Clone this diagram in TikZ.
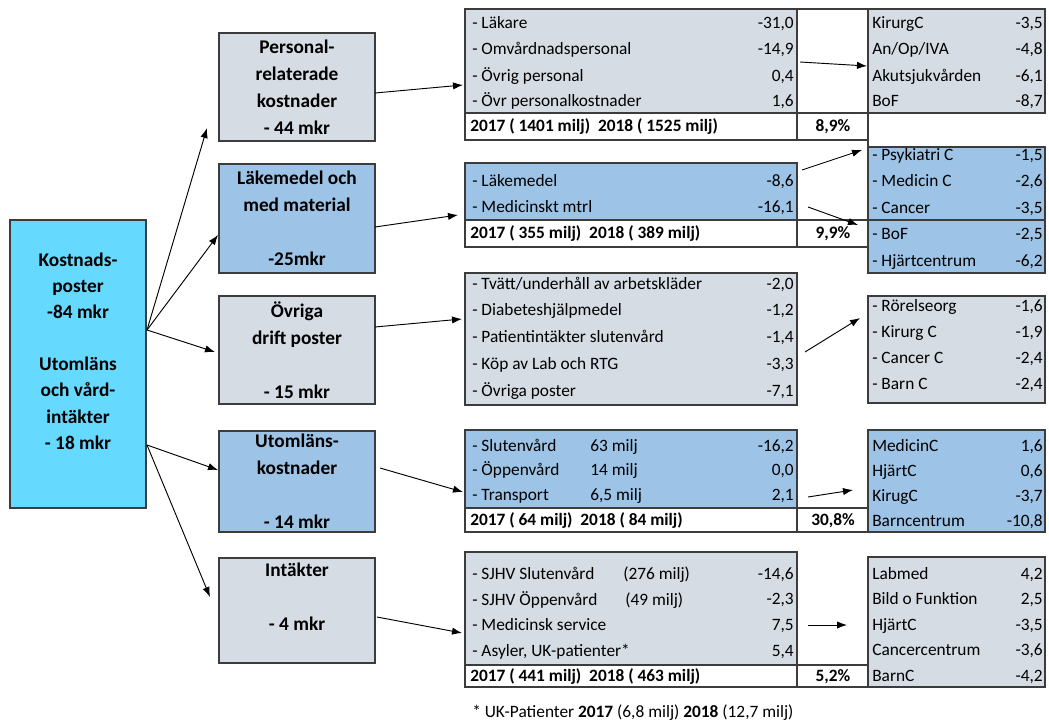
\documentclass[tikz,border=0pt]{standalone}
\usepackage{fontspec}
\setmainfont{Carlito}
\usetikzlibrary{arrows.meta}

\definecolor{kostblue}{RGB}{102,217,255}
\definecolor{graycell}{RGB}{214,220,228}
\definecolor{bluecell}{RGB}{157,195,230}
\definecolor{framegray}{RGB}{60,60,60}

\tikzset{
  box/.style={draw=framegray, line width=1pt, inner sep=0pt, align=center,
    font=\fontsize{14.5}{20.25}\selectfont\bfseries},
  cell/.style={draw=framegray, line width=0.9pt},
  lbl/.style={anchor=west, inner sep=0pt, text height=9pt, text depth=3pt,
    font=\fontsize{13}{15}\selectfont},
  val/.style={lbl, anchor=east},
  sum/.style={lbl, font=\fontsize{13}{15}\selectfont\bfseries},
  pil/.style={-{Latex[length=7.5pt,width=5.5pt]}, line width=0.7pt},
}

\begin{document}
\begin{tikzpicture}[x=0.75pt,y=-0.75pt]
\useasboundingbox (0,0) rectangle (1049,724);

\node[box, fill=kostblue, minimum width=102pt, minimum height=216pt,
  font=\fontsize{14.5}{19.6}\selectfont\bfseries] (kost) at (78,364)
  {Kostnads-\\poster\\-84 mkr\\\mbox{}\\Utomläns\\och vård-\\intäkter\\- 18 mkr\\\mbox{}};

\node[box, fill=graycell, minimum width=117pt, minimum height=81pt] (pers) at (297,87)
  {Personal-\\relaterade\\kostnader\\- 44 mkr};
\node[box, fill=bluecell, minimum width=117pt, minimum height=81.75pt] (lak) at (297,218.5)
  {Läkemedel och\\med material\\\mbox{}\\-25mkr};
\node[box, fill=graycell, minimum width=117pt, minimum height=81pt] (ovr) at (297,350)
  {Övriga\\drift poster\\\mbox{}\\- 15 mkr};
\node[box, fill=bluecell, minimum width=117pt, minimum height=75.75pt] (utl) at (297,481.5)
  {Utomläns-\\kostnader\\\mbox{}\\- 14 mkr};
\node[box, fill=graycell, minimum width=117pt, minimum height=78.75pt] (int) at (297,610.5)
  {Intäkter\\\mbox{}\\- 4 mkr\\\mbox{}};

% personal
\draw[cell, fill=graycell] (465,9) rectangle (797,113);
\draw[cell] (465,113) rectangle (797,140);
\draw[cell] (797,9) rectangle (868,140);
\draw[cell] (797,113) -- (868,113);
\draw[cell, fill=graycell] (868,9) rectangle (1045,113);
\draw[cell] (868,113) -- (868,148);
\foreach \txt/\v [count=\i from 0] in {- Läkare/{-31,0}, - Omvårdnadspersonal/{-14,9},
    - Övrig personal/{0,4}, - Övr personalkostnader/{1,6}} {
  \node[lbl] (pl\i) at (472,25+26*\i) {\txt};
  \node[val] (pv\i) at (794,25+26*\i) {\v};
}
\node[sum] (pf) at (470,127.5) {2017 ( 1401 milj)\ \ 2018 ( 1525 milj)};
\node[sum, anchor=center] (pp) at (833,127.5) {8,9\%};
\foreach \txt/\v [count=\i from 0] in {KirurgC/{-3,5}, {An/Op/IVA}/{-4,8},
    Akutsjukvården/{-6,1}, BoF/{-8,7}} {
  \node[lbl] (ql\i) at (872,25+26*\i) {\txt};
  \node[val] (qv\i) at (1043,25+26*\i) {\v};
}

% läkemedel
\draw[cell, fill=bluecell] (465,163) rectangle (797,220);
\draw[cell] (465,220) rectangle (868,247);
\draw[cell] (797,220) -- (797,247);
\draw[cell, fill=bluecell] (868,147) rectangle (1045,273);
\draw[cell] (868,220) -- (1045,220);
\foreach \txt/\v [count=\i from 0] in {- Läkemedel/{-8,6}, - Medicinskt mtrl/{-16,1}} {
  \node[lbl] (ll\i) at (472,182+26*\i) {\txt};
  \node[val] (lv\i) at (794,182+26*\i) {\v};
}
\node[sum] (lf) at (470,234.5) {2017 ( 355 milj)\ \ 2018 ( 389 milj)};
\node[sum, anchor=center] (lp) at (833,234.5) {9,9\%};
\foreach \txt/\v [count=\i from 0] in {- Psykiatri C/{-1,5}, - Medicin C/{-2,6},
    - Cancer/{-3,5}, - BoF/{-2,5}, - Hjärtcentrum/{-6,2}} {
  \node[lbl] (ml\i) at (872,156+26.5*\i) {\txt};
  \node[val] (mv\i) at (1043,156+26.5*\i) {\v};
}

% övriga
\draw[cell, fill=graycell] (465,273) rectangle (797,405);
\draw[cell, fill=graycell] (868,296) rectangle (1045,403);
\foreach \txt/\v [count=\i from 0] in {{- Tvätt/underhåll av arbetskläder}/{-2,0},
    - Diabeteshjälpmedel/{-1,2}, - Patientintäkter slutenvård/{-1,4},
    - Köp av Lab och RTG/{-3,3}, - Övriga poster/{-7,1}} {
  \node[lbl] (ol\i) at (472,285+26.75*\i) {\txt};
  \node[val] (ov\i) at (794,285+26.75*\i) {\v};
}
\foreach \txt/\v [count=\i from 0] in {- Rörelseorg/{-1,6}, - Kirurg C/{-1,9},
    - Cancer C/{-2,4}, - Barn C/{-2,4}} {
  \node[lbl] (rl\i) at (872,307+26.3*\i) {\txt};
  \node[val] (rv\i) at (1043,307+26.3*\i) {\v};
}

% utomläns
\draw[cell, fill=bluecell] (465,430) rectangle (797,508);
\draw[cell] (465,508) rectangle (868,532);
\draw[cell] (797,508) -- (797,532);
\draw[cell, fill=bluecell] (868,430) rectangle (1045,532);
\foreach \txt/\m/\v [count=\i from 0] in {- Slutenvård/63 milj/{-16,2},
    - Öppenvård/14 milj/{0,0}, - Transport/{6,5 milj}/{2,1}} {
  \node[lbl] (ul\i) at (472,447+24.5*\i) {\txt};
  \node[lbl] (um\i) at (590,447+24.5*\i) {\m};
  \node[val] (uv\i) at (794,447+24.5*\i) {\v};
}
\node[sum] (uf) at (470,521) {2017 ( 64 milj)\ \ 2018 ( 84 milj)};
\node[sum, anchor=center] (up) at (833,521) {30,8\%};
\foreach \txt/\v [count=\i from 0] in {MedicinC/{1,6}, HjärtC/{0,6},
    KirugC/{-3,7}, Barncentrum/{-10,8}} {
  \node[lbl] (vl\i) at (872,447+25*\i) {\txt};
  \node[val] (vv\i) at (1043,447+25*\i) {\v};
}

% intäkter
\draw[cell, fill=graycell] (465,552) rectangle (797,665);
\draw[cell] (465,665) rectangle (868,687);
\draw[cell] (797,665) -- (797,687);
\draw[cell, fill=graycell] (868,557) rectangle (1045,687);
\node[lbl] (il0) at (472,575) {- SJHV Slutenvård};
\node[lbl] (im0) at (623,575) {(276 milj)};
\node[lbl] (il1) at (472,601) {- SJHV Öppenvård};
\node[lbl] (im1) at (625,601) {(49 milj)};
\node[lbl] (il2) at (472,626) {- Medicinsk service};
\node[lbl] (il3) at (472,652) {- Asyler, UK-patienter*};
\foreach \v [count=\i from 0] in {{-14,6}, {-2,3}, {7,5}, {5,4}} {
  \node[val] (iv\i) at (794,575+25.7*\i) {\v};
}
\node[sum] (if) at (470,677) {2017 ( 441 milj)\ \ 2018 ( 463 milj)};
\node[sum, anchor=center] (ip) at (833,677) {5,2\%};
\foreach \txt/\v [count=\i from 0] in {Labmed/{4,2}, Bild o Funktion/{2,5},
    HjärtC/{-3,5}, Cancercentrum/{-3,6}, BarnC/{-4,2}} {
  \node[lbl] (jl\i) at (872,575+25.5*\i) {\txt};
  \node[val] (jv\i) at (1043,575+25.5*\i) {\v};
}

\node[lbl] (fot) at (472,713) {* UK-Patienter \textbf{2017} (6,8 milj) \textbf{2018} (12,7 milj)};

\coordinate (KA) at (147,330);
\coordinate (KB) at (147,445);
\coordinate (E1) at (207,128);
\coordinate (E2) at (218,235);
\coordinate (E3) at (215,352);
\coordinate (E4) at (218,470);
\coordinate (E5) at (210,597);
\draw[pil] (KA) -- (E1);
\draw[pil] (KA) -- (E2);
\draw[pil] (KA) -- (E3);
\draw[pil] (KB) -- (E4);
\draw[pil] (KB) -- (E5);

\coordinate (M1) at (375,93);
\coordinate (T1) at (463,85);
\coordinate (M2) at (375,227);
\coordinate (T2) at (458,215);
\coordinate (M3) at (375,327);
\coordinate (T3) at (462,319);
\coordinate (M4) at (380,468);
\coordinate (T4) at (463,492);
\coordinate (M5) at (377,617);
\coordinate (T5) at (462,633);
\draw[pil] (M1) -- (T1);
\draw[pil] (M2) -- (T2);
\draw[pil] (M3) -- (T3);
\draw[pil] (M4) -- (T4);
\draw[pil] (M5) -- (T5);

\coordinate (R1) at (800,62);
\coordinate (S1) at (867,66);
\coordinate (R2) at (802,170);
\coordinate (S2) at (862,150);
\coordinate (R3) at (808,207);
\coordinate (S3) at (858,225);
\coordinate (R4) at (805,352);
\coordinate (S4) at (860,318);
\coordinate (R5) at (808,497);
\coordinate (S5) at (853,490);
\coordinate (R6) at (808,625);
\coordinate (S6) at (847,625);
\draw[pil] (R1) -- (S1);
\draw[pil] (R2) -- (S2);
\draw[pil] (R3) -- (S3);
\draw[pil] (R4) -- (S4);
\draw[pil] (R5) -- (S5);
\draw[pil] (R6) -- (S6);

\end{tikzpicture}
\end{document}
